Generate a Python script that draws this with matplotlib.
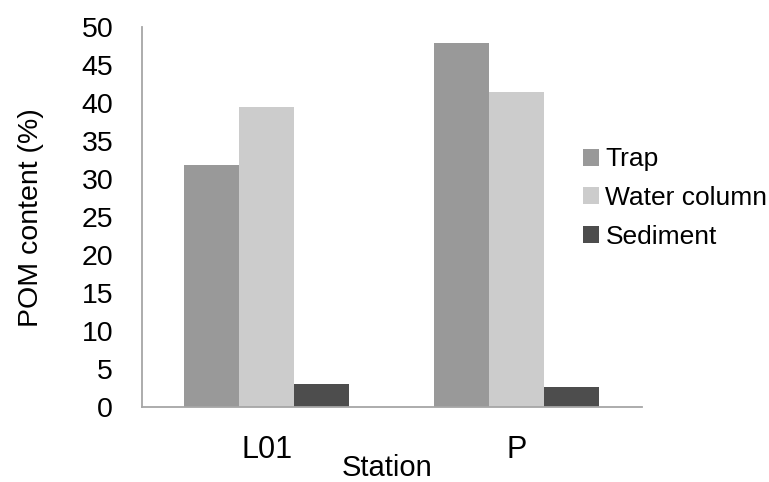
import matplotlib
matplotlib.use("Agg")
import matplotlib.pyplot as plt
import numpy as np
from matplotlib.patches import Patch

stations = ["L01", "P"]
series = ["Trap", "Water column", "Sediment"]
trap = [31.8, 47.9]
water = [39.5, 41.4]
sediment = [3.1, 2.7]
colors = ["#999999", "#cccccc", "#4d4d4d"]
yticks = [0, 5, 10, 15, 20, 25, 30, 35, 40, 45, 50]

plt.rcParams['font.family'] = ['Liberation Sans', 'DejaVu Sans']

fig = plt.figure(figsize=(7.69, 4.82), dpi=100)
ax = fig.add_axes([141.7/769, 1-407.3/482, (641.5-141.7)/769, (407.3-27)/482])

x = np.arange(len(stations))
w = 0.221
for i, (vals, c) in enumerate(zip([trap, water, sediment], colors)):
    ax.bar(x + (i-1)*w, vals, width=w, color=c, label=series[i], linewidth=0)

ax.set_xlim(-0.5, 1.5)
ax.set_ylim(0, 50)
ax.set_yticks(yticks)
ax.set_yticklabels([str(v) for v in yticks], fontsize=20.5)
ax.set_xticks(x)
ax.set_xticklabels(stations, fontsize=22)
ax.tick_params(axis='y', length=0, pad=20.5)
ax.tick_params(axis='x', length=0, pad=20)
for s in ["top", "right"]:
    ax.spines[s].set_visible(False)
for s in ["left", "bottom"]:
    ax.spines[s].set_color("#a6a6a6")
    ax.spines[s].set_linewidth(1.3)

ax.set_ylabel("POM content (%)", fontsize=20.5)
ax.yaxis.set_label_coords((44-141.7)/499.8, 0.5)
ax.set_xlabel("Station", fontsize=21)
ax.xaxis.set_label_coords((387.5-141.7)/499.8, (407.3-467.5)/380.3)
ax.xaxis.label.set_va('center')

handles = [Patch(facecolor=c, edgecolor='none') for c in colors]
fig.legend(handles, series, loc='center left', bbox_to_anchor=(583/769, 1-198/482),
           frameon=False, fontsize=19, handlelength=0.6, handleheight=0.6,
           handletextpad=0.25, labelspacing=0.55, borderpad=0, borderaxespad=0)

fig.savefig("out.png", dpi=100)
